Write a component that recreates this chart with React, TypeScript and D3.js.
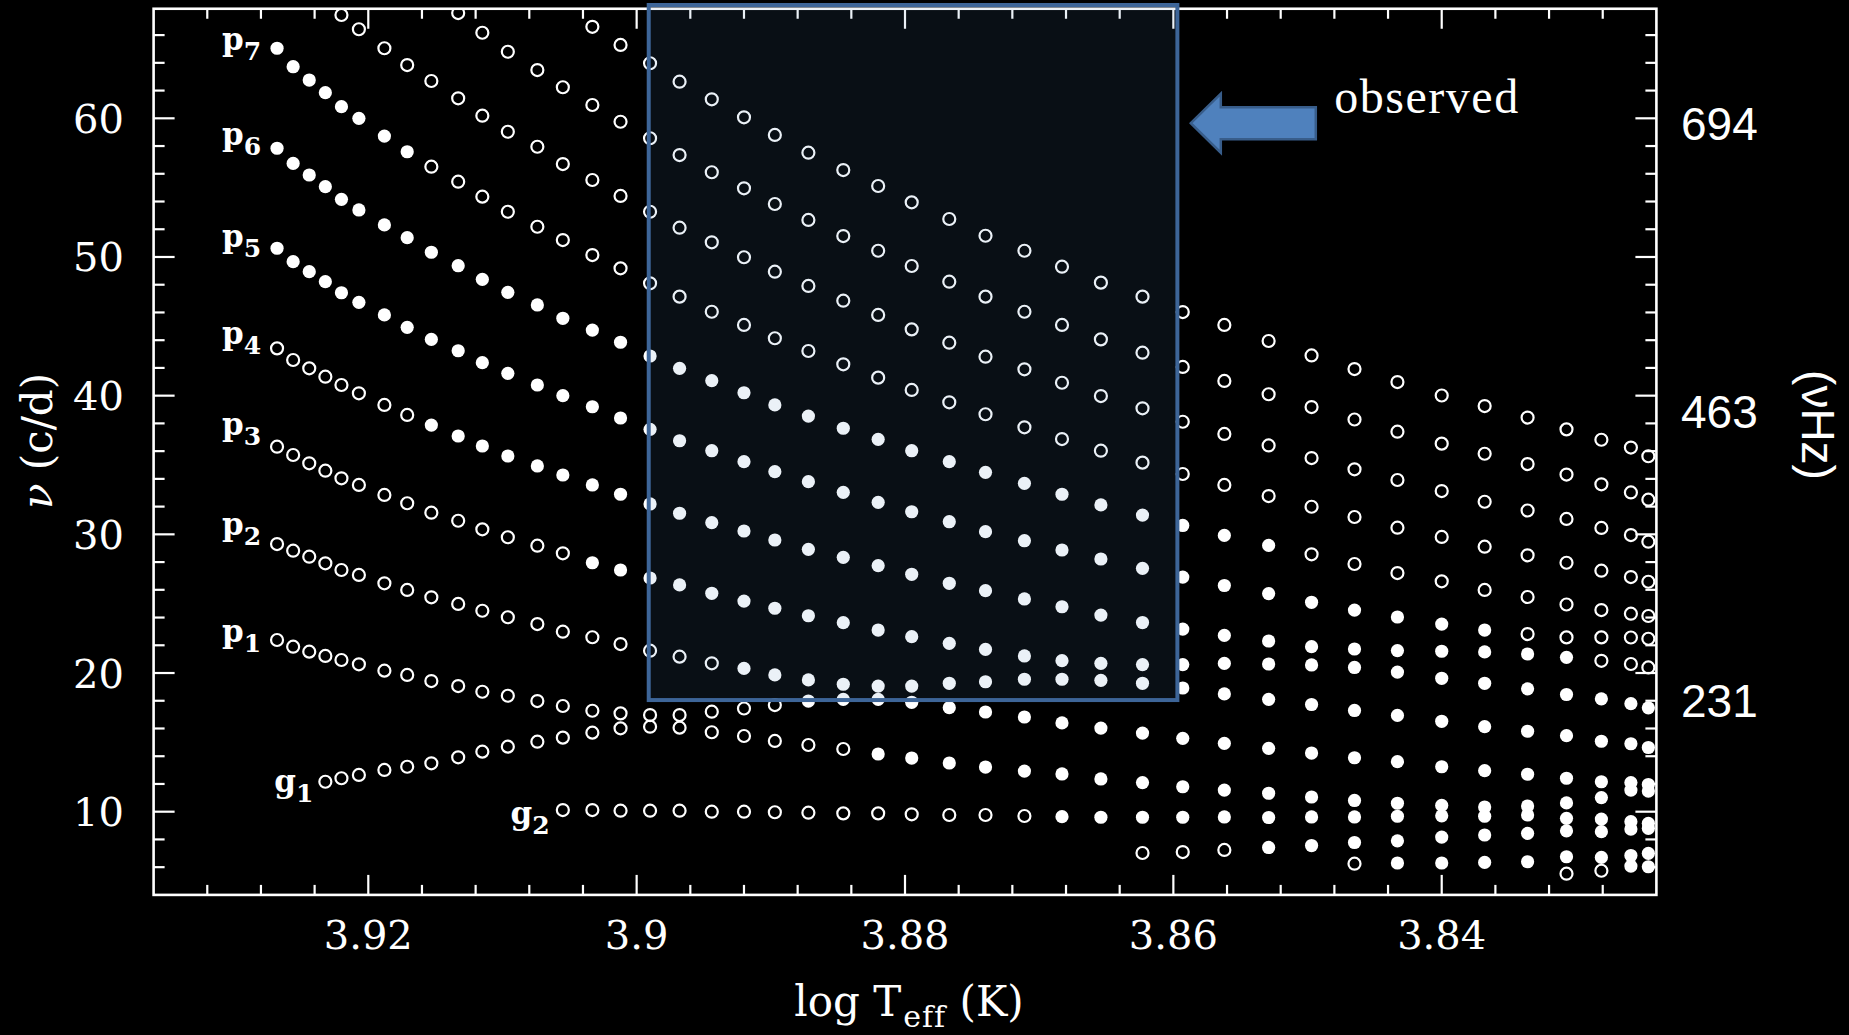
import React from 'react';
import * as d3 from 'd3';

// model temperatures along the track (log Teff), one per column of points
const logTeff = [
  3.9268, 3.9256, 3.9244, 3.9232, 3.922, 3.9207, 3.9188, 3.9171, 3.9153, 3.9133,
  3.9115, 3.9096, 3.9074, 3.9055, 3.9033, 3.9012, 3.899, 3.8968, 3.8944, 3.892,
  3.8897, 3.8872, 3.8846, 3.882, 3.8795, 3.8767, 3.874, 3.8711, 3.8683, 3.8654,
  3.8623, 3.8593, 3.8562, 3.8529, 3.8497, 3.8465, 3.8433, 3.84, 3.8368, 3.8336,
  3.8307, 3.8281, 3.8259, 3.8246,
];

// mode frequencies (c/d); first value belongs to logTeff[start]
const p10 = [66.6, 65.29, 63.97, 62.64, 61.37, 60.07, 58.8, 57.52, 56.27, 55.12, 53.94, 52.74, 51.53, 50.45, 49.3, 48.15, 47.14, 46.03, 45.1, 43.94, 42.9, 41.92, 40.98, 40.01, 39.25, 38.42, 37.57, 36.82, 36.26, 35.63];
const p9 = [67.59, 66.17, 64.8, 63.48, 62.24, 60.96, 59.75, 58.56, 57.35, 56.11, 54.95, 53.82, 52.67, 51.51, 50.45, 49.35, 48.22, 47.14, 46.05, 45.1, 44.06, 43.1, 42.07, 41.06, 40.1, 39.18, 38.28, 37.4, 36.54, 35.81, 35.07, 34.31, 33.61, 33.02, 32.5];
const p8 = [67.45, 66.42, 65.05, 63.84, 62.69, 61.44, 60.19, 59.03, 57.95, 56.7, 55.55, 54.4, 53.26, 52.11, 51.06, 49.98, 48.94, 47.91, 46.85, 45.82, 44.78, 43.82, 42.81, 41.9, 40.93, 39.97, 39.09, 38.12, 37.24, 36.41, 35.5, 34.69, 33.92, 33.12, 32.35, 31.72, 31.11, 30.46, 29.95, 29.47];
const p7 = [65.05, 63.72, 62.76, 61.85, 60.84, 60.0, 58.72, 57.59, 56.51, 55.43, 54.35, 53.26, 52.18, 51.22, 50.14, 49.18, 48.1, 47.14, 46.05, 45.1, 44.14, 43.22, 42.26, 41.3, 40.41, 39.52, 38.66, 37.72, 36.87, 36.03, 35.17, 34.35, 33.56, 32.76, 31.99, 31.25, 30.48, 29.81, 29.11, 28.49, 27.95, 27.38, 26.92, 26.58];
const p6 = [57.84, 56.75, 55.91, 55.07, 54.16, 53.39, 52.31, 51.39, 50.34, 49.37, 48.39, 47.45, 46.54, 45.58, 44.73, 43.85, 42.86, 41.97, 41.08, 40.21, 39.33, 38.53, 37.65, 36.85, 36.03, 35.24, 34.47, 33.68, 32.89, 32.12, 31.39, 30.64, 29.92, 29.2, 28.56, 27.86, 27.21, 26.61, 25.99, 25.48, 24.94, 24.54, 24.28, 24.11];
const p5 = [50.63, 49.66, 48.94, 48.22, 47.42, 46.73, 45.82, 44.93, 44.06, 43.24, 42.38, 41.61, 40.77, 40.0, 39.2, 38.39, 37.57, 36.75, 36.03, 35.24, 34.52, 33.8, 33.03, 32.31, 31.63, 30.91, 30.19, 29.54, 28.87, 28.22, 27.55, 26.92, 26.31, 25.73, 25.1, 24.54, 24.04, 23.53, 23.1, 22.81, 22.57, 22.57, 22.56, 22.47];
const p4 = [43.41, 42.57, 41.97, 41.37, 40.77, 40.17, 39.33, 38.61, 37.88, 37.09, 36.37, 35.65, 34.93, 34.28, 33.56, 32.89, 32.19, 31.52, 30.84, 30.24, 29.59, 28.92, 28.34, 27.74, 27.12, 26.47, 25.94, 25.34, 24.78, 24.18, 23.64, 23.17, 22.71, 22.31, 21.9, 21.73, 21.62, 21.57, 21.52, 21.37, 21.13, 20.88, 20.65, 20.4];
const p3 = [36.32, 35.72, 35.12, 34.59, 34.04, 33.56, 32.84, 32.24, 31.56, 30.98, 30.36, 29.79, 29.18, 28.63, 27.95, 27.43, 26.85, 26.35, 25.75, 25.19, 24.67, 24.13, 23.63, 23.1, 22.62, 22.14, 21.7, 21.23, 20.89, 20.7, 20.61, 20.61, 20.69, 20.65, 20.58, 20.4, 20.07, 19.62, 19.26, 18.86, 18.45, 18.14, 17.79, 17.49];
const p2 = [29.3, 28.82, 28.39, 27.91, 27.43, 27.07, 26.47, 25.99, 25.46, 24.98, 24.49, 24.02, 23.53, 22.98, 22.58, 22.09, 21.61, 21.18, 20.7, 20.33, 19.86, 19.5, 19.19, 19.06, 19.06, 19.26, 19.37, 19.55, 19.55, 19.47, 19.26, 18.92, 18.49, 18.1, 17.73, 17.3, 16.94, 16.52, 16.13, 15.8, 15.48, 15.08, 14.9, 14.63];
const p1 = [22.38, 21.9, 21.54, 21.23, 20.94, 20.63, 20.17, 19.86, 19.42, 19.06, 18.65, 18.36, 17.98, 17.62, 17.28, 17.09, 16.97, 16.97, 17.21, 17.44, 17.69, 17.98, 18.1, 18.1, 17.89, 17.5, 17.19, 16.83, 16.4, 16.03, 15.67, 15.29, 14.93, 14.57, 14.23, 13.89, 13.61, 13.24, 12.96, 12.7, 12.41, 12.16, 12.1, 11.96];
const g1 = [12.16, 12.41, 12.65, 13.01, 13.24, 13.49, 13.92, 14.33, 14.69, 15.05, 15.34, 15.7, 16.01, 16.13, 16.06, 15.73, 15.46, 15.1, 14.81, 14.52, 14.16, 13.87, 13.51, 13.22, 12.93, 12.72, 12.36, 12.1, 11.8, 11.56, 11.33, 11.06, 10.81, 10.61, 10.45, 10.34, 10.41, 10.63, 11.02, 11.56, 11.49];
const g2 = [10.12, 10.12, 10.07, 10.07, 10.07, 10.0, 10.0, 9.96, 9.93, 9.88, 9.88, 9.81, 9.76, 9.76, 9.69, 9.64, 9.6, 9.6, 9.6, 9.62, 9.58, 9.62, 9.62, 9.67, 9.7, 9.67, 9.76, 9.52, 9.47, 9.28, 9.16];
const g3 = [7.02, 7.09, 7.24, 7.42, 7.56, 7.78, 7.9, 8.17, 8.32, 8.44, 8.62, 8.56, 8.75, 8.8];
const g4 = [6.25, 6.3, 6.3, 6.34, 6.39, 6.75, 6.7, 6.84, 7.0];
const g5 = [5.53, 5.74, 6.08, 6.03];

// columns (inclusive) where the mode is drawn filled (unstable)
const series = [
  { name: 'p10', start: 14, freq: p10, unstable: null },
  { name: 'p9', start: 9, freq: p9, unstable: null },
  { name: 'p8', start: 4, freq: p8, unstable: null },
  { name: 'p7', start: 0, freq: p7, unstable: [0, 7] },
  { name: 'p6', start: 0, freq: p6, unstable: [0, 33] },
  { name: 'p5', start: 0, freq: p5, unstable: [0, 38] },
  { name: 'p4', start: 0, freq: p4, unstable: [8, 40] },
  { name: 'p3', start: 0, freq: p3, unstable: [14, 43] },
  { name: 'p2', start: 0, freq: p2, unstable: [19, 43] },
  { name: 'p1', start: 0, freq: p1, unstable: [21, 43] },
  { name: 'g1', start: 3, freq: g1, unstable: [23, 43] },
  { name: 'g2', start: 13, freq: g2, unstable: [28, 43] },
  { name: 'g3', start: 30, freq: g3, unstable: [33, 43] },
  { name: 'g4', start: 35, freq: g4, unstable: [36, 43] },
  { name: 'g5', start: 40, freq: g5, unstable: [42, 43] },
];

// mode labels: letter, subscript, position (log Teff, c/d of the baseline)
const labelLetters = ['p', 'p', 'p', 'p', 'p', 'p', 'p', 'g', 'g'];
const labelSubs = ['7', '6', '5', '4', '3', '2', '1', '1', '2'];
const labelLogT = [3.9309, 3.9309, 3.9309, 3.9309, 3.9309, 3.9309, 3.9309, 3.927, 3.9094];
const labelFreq = [64.9, 58.07, 50.72, 43.76, 37.13, 29.95, 22.27, 11.42, 9.11];

const xTickLabels = [3.92, 3.9, 3.88, 3.86, 3.84];
const yTickLabels = [10, 20, 30, 40, 50, 60];
const hzTickLabels = [694, 463, 231];

// observed range box and annotation
const boxLogT = [3.8991, 3.8597];
const boxFreq = [68.17, 18.05];
const hzAnchorFreq = [59.64, 18.05]; // where 694 and 231 uHz labels sit
const arrowTip = { logT: 3.8587, freq: 59.65 };
const observedAt = { logT: 3.848, freq: 60.38 };

const W = 1849;
const H = 1035;
const margin = { top: 8.75, right: 192.6, bottom: 140.1, left: 153.6 };
const serif = '"DejaVu Serif", serif';

export default function App() {
  const x = d3.scaleLinear().domain([3.936, 3.824]).range([margin.left, W - margin.right]);
  const y = d3.scaleLinear().domain([4, 67.9]).range([H - margin.bottom, margin.top]);
  const hz = d3.scaleLinear().domain([694, 231]).range(hzAnchorFreq.map(f => y(f)));

  const x0 = margin.left, x1 = W - margin.right, y0 = margin.top, y1 = H - margin.bottom;

  const points = series.flatMap(s =>
    s.freq.map((f, i) => {
      const col = s.start + i;
      const filled = s.unstable ? col >= s.unstable[0] && col <= s.unstable[1] : false;
      return { key: s.name + '-' + col, t: logTeff[col], f, filled };
    })
  );

  const xTicks = d3.range(957, 984).map(k => ({ v: k * 0.004, major: k % 5 === 0 }));
  const yTicks = d3.range(6, 67, 2).map(v => ({ v, major: v % 10 === 0 }));

  // arrow geometry (px) anchored at the tip
  const ax = x(arrowTip.logT), ay = y(arrowTip.freq);
  const arrow = [
    [ax, ay], [ax + 30, ay - 29.5], [ax + 30, ay - 16], [ax + 125, ay - 16],
    [ax + 125, ay + 16], [ax + 30, ay + 16], [ax + 30, ay + 29.5],
  ].map(p => p.join(',')).join(' ');

  return (
    <svg width={W} height={H} style={{ position: 'absolute', left: 0, top: 0, display: 'block' }}>
      <rect width={W} height={H} fill="#000" />
      <defs>
        <clipPath id="plot">
          <rect x={x0} y={y0} width={x1 - x0} height={y1 - y0} />
        </clipPath>
      </defs>

      {/* frame and ticks */}
      <g stroke="#fff" strokeWidth={2.2}>
        <rect x={x0} y={y0} width={x1 - x0} height={y1 - y0} fill="none" strokeWidth={2.6} />
        {xTicks.map(t => (
          <g key={'xt' + t.v}>
            <line x1={x(t.v)} x2={x(t.v)} y1={y1} y2={y1 - (t.major ? 20 : 10)} />
            <line x1={x(t.v)} x2={x(t.v)} y1={y0} y2={y0 + (t.major ? 20 : 10)} />
          </g>
        ))}
        {yTicks.map(t => (
          <g key={'yt' + t.v}>
            <line x1={x0} x2={x0 + (t.major ? 21 : 11)} y1={y(t.v)} y2={y(t.v)} />
            <line x1={x1} x2={x1 - (t.major ? 21 : 11)} y1={y(t.v)} y2={y(t.v)} />
          </g>
        ))}
      </g>

      {/* tick labels */}
      <g fill="#fff" fontFamily={serif} fontSize={40}>
        {xTickLabels.map(v => (
          <text key={'xl' + v} x={x(v)} y={949} textAnchor="middle">{String(v)}</text>
        ))}
        {yTickLabels.map(v => (
          <text key={'yl' + v} x={124} y={y(v) + 14.5} textAnchor="end">{v}</text>
        ))}
      </g>
      <g fill="#fff" fontFamily='"Liberation Sans", Arial, sans-serif' fontSize={46}>
        {hzTickLabels.map(v => (
          <text key={'hz' + v} x={1681} y={hz(v) + 16.5}>{v}</text>
        ))}
        <text transform={`translate(1802, ${425}) rotate(90)`} textAnchor="middle">(νHz)</text>
      </g>

      {/* axis titles */}
      <text x={(x0 + x1) / 2 + 4} y={1016} textAnchor="middle" fill="#fff" fontFamily={serif} fontSize={42}>
        log T<tspan fontSize={30} dy={11} dx={2} letterSpacing={1}>eff</tspan><tspan dy={-11}> (K)</tspan>
      </text>
      <text transform={`translate(52, 441) rotate(-90)`} textAnchor="middle" fill="#fff" fontFamily={serif} fontSize={42}>
        <tspan fontStyle="italic">ν</tspan> (c/d)
      </text>

      {/* mode frequencies */}
      <g clipPath="url(#plot)">
        {points.map(p =>
          p.filled ? (
            <circle key={p.key} cx={x(p.t)} cy={y(p.f)} r={6.6} fill="#fff" />
          ) : (
            <circle key={p.key} cx={x(p.t)} cy={y(p.f)} r={6} fill="none" stroke="#fff" strokeWidth={2.2} />
          )
        )}
      </g>

      {/* mode labels */}
      <g fill="#fff" fontFamily={serif} fontWeight="bold">
        {labelLetters.map((l, i) => (
          <text key={'lab' + i} x={x(labelLogT[i])} y={y(labelFreq[i])} fontSize={31}>
            {l}
            <tspan fontSize={25} dy={10}>{labelSubs[i]}</tspan>
          </text>
        ))}
      </g>

      {/* observed range */}
      <rect
        x={x(boxLogT[0])}
        y={y(boxFreq[0])}
        width={x(boxLogT[1]) - x(boxLogT[0])}
        height={y(boxFreq[1]) - y(boxFreq[0])}
        fill="#4f81bd"
        fillOpacity={0.115}
        stroke="#3d6598"
        strokeWidth={4}
      />
      <polygon points={arrow} fill="#4f81bd" stroke="#385d8a" strokeWidth={2.5} />
      <text
        x={x(observedAt.logT)}
        y={y(observedAt.freq)}
        fill="#fff"
        fontFamily='"Liberation Serif", serif'
        fontSize={48}
        letterSpacing={1.5}
      >
        observed
      </text>
    </svg>
  );
}
